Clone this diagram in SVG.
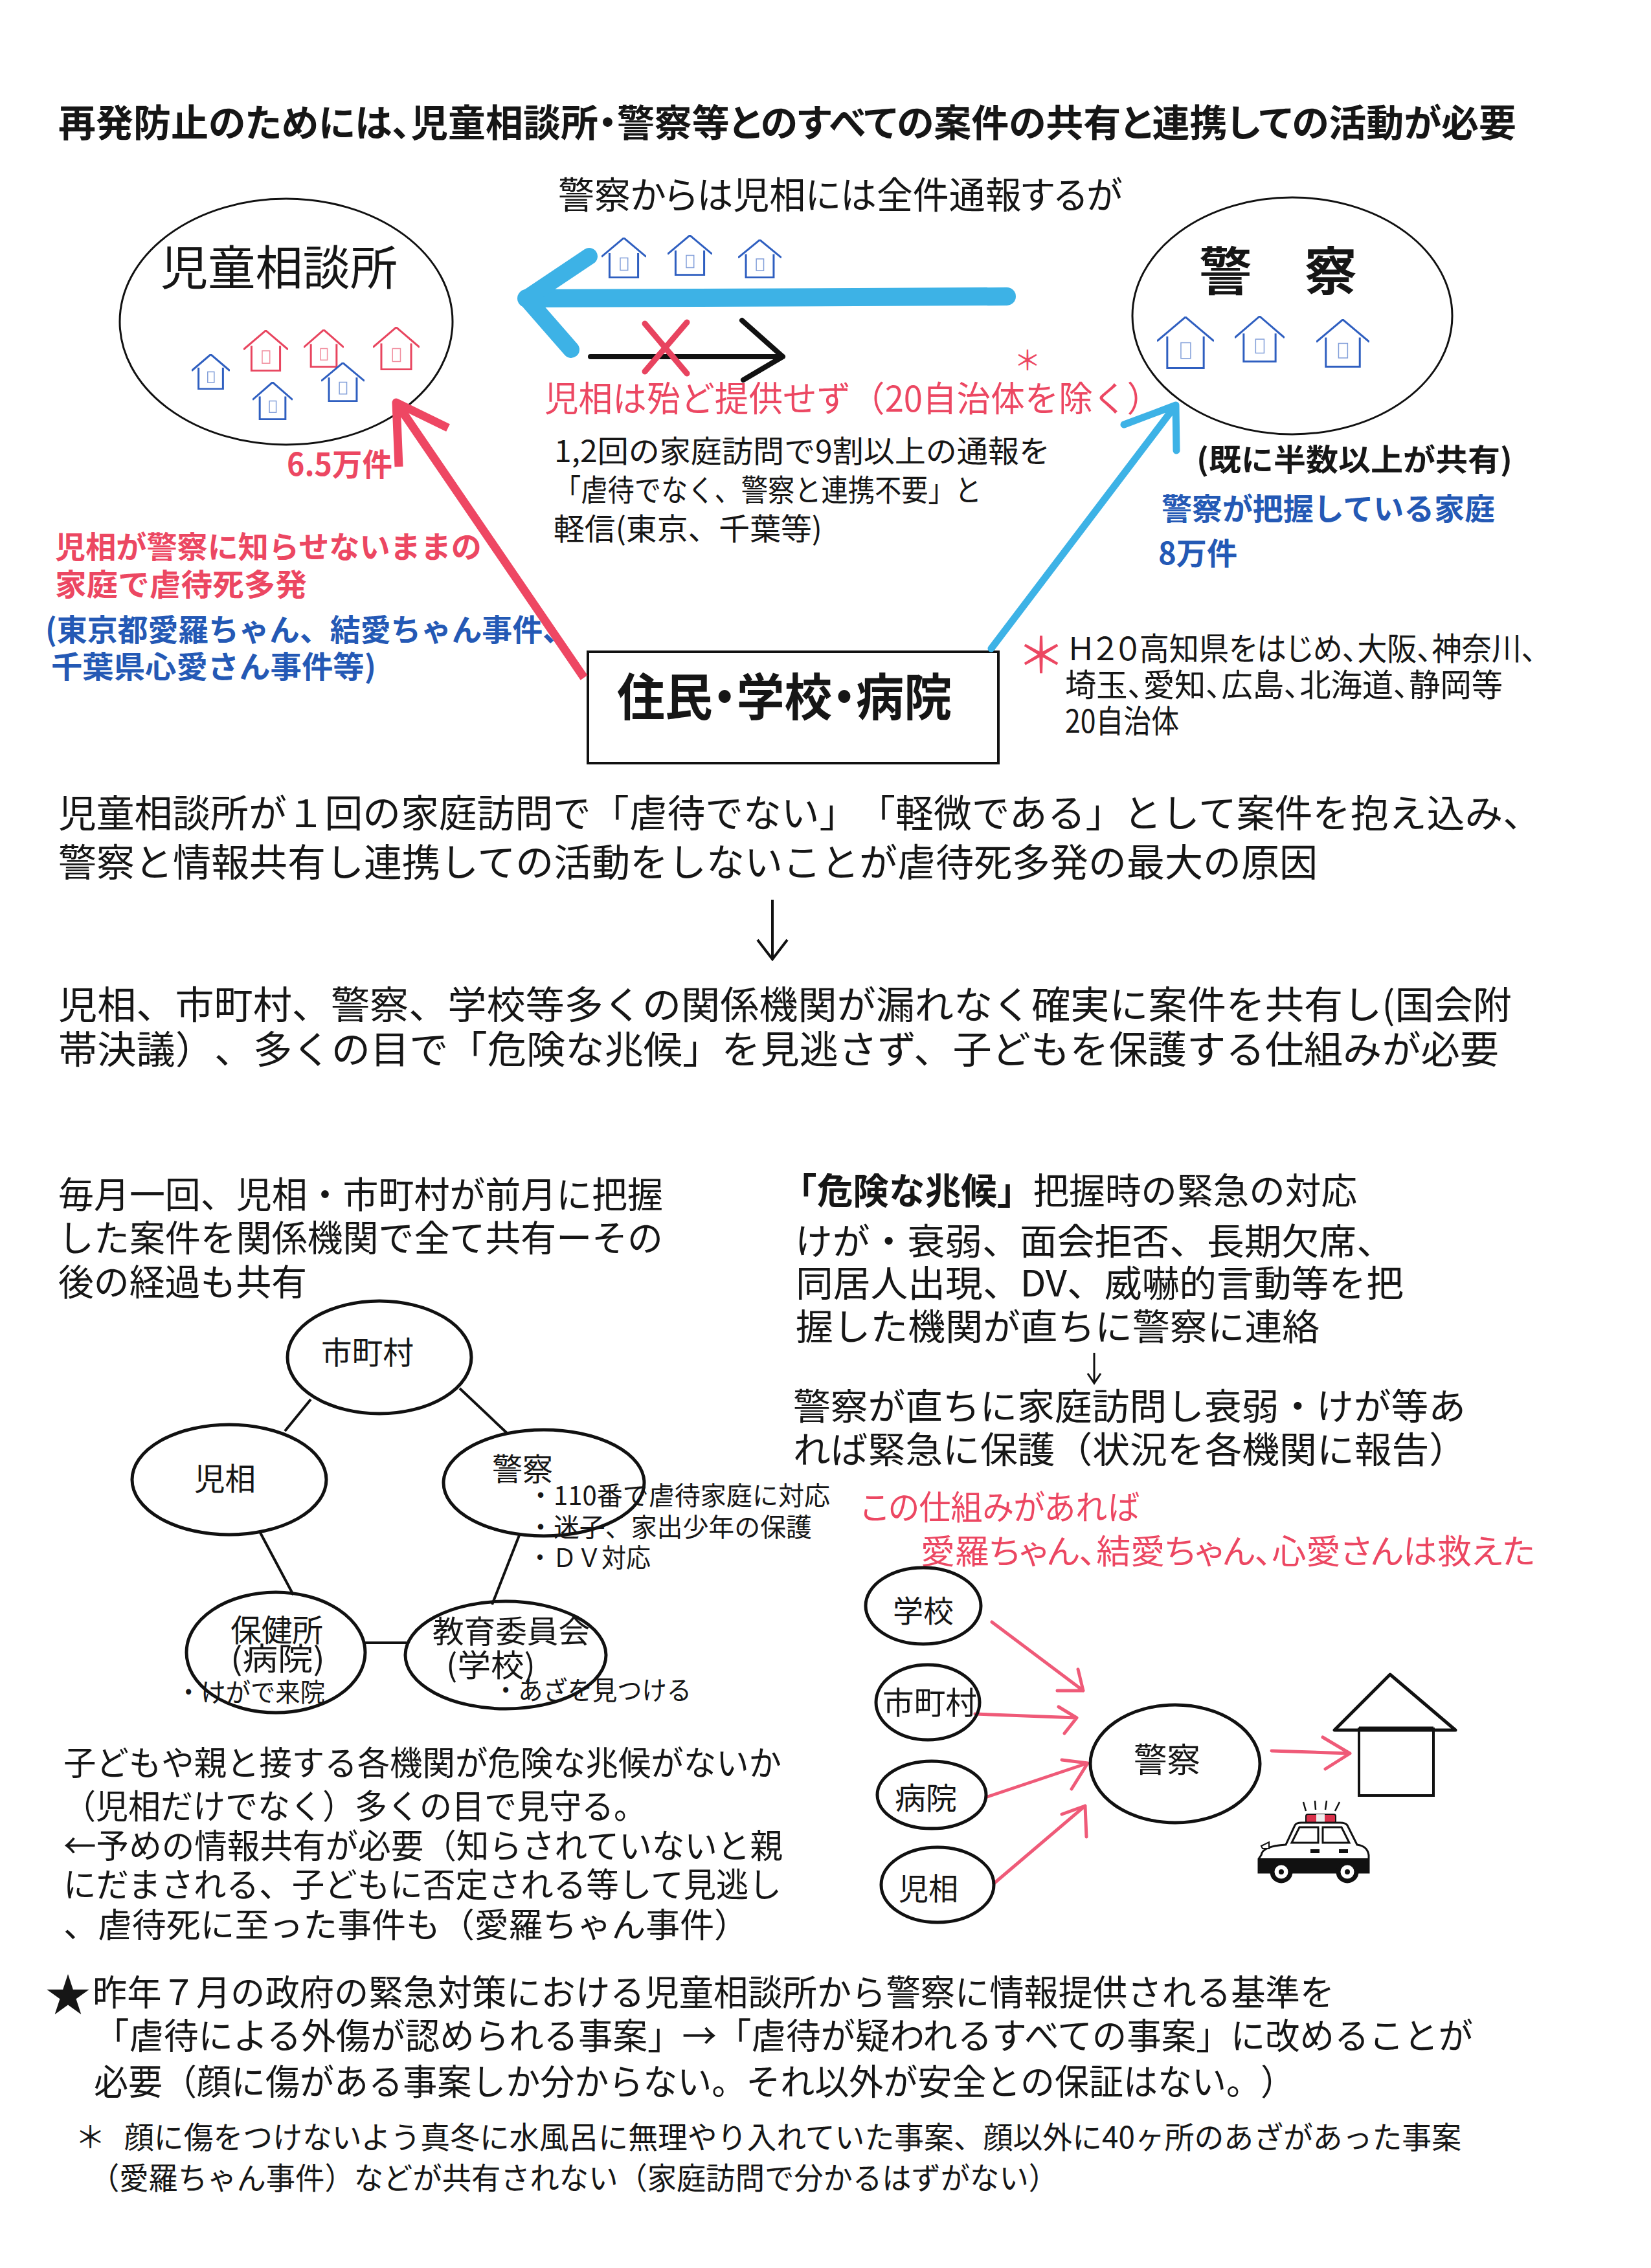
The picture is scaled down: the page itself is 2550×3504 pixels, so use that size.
<svg xmlns="http://www.w3.org/2000/svg" xmlns:xlink="http://www.w3.org/1999/xlink" width="2550" height="3504" viewBox="0 0 2550 3504">
<style>
text{font-family:"Noto Sans CJK JP","Noto Sans",sans-serif;fill:#161616;text-spacing-trim:space-all}
.b{font-weight:700}
.p{font-feature-settings:"palt"}
.r{fill:#ec4762}
.bl{fill:#2459b5}
.node{fill:none;stroke:#111;stroke-width:5}
.thin{fill:none;stroke:#111;stroke-width:3}
.link{fill:none;stroke:#111;stroke-width:4}
.pk{fill:none;stroke:#ef5a78;stroke-width:5;stroke-linecap:round;stroke-linejoin:round}
.hb{color:#2f5fc0}.hr{color:#e8455f}
</style>
<defs>
<symbol id="house" viewBox="0 0 100 100" preserveAspectRatio="none">
<polyline points="0,47 50,1 100,47" fill="none" stroke="currentColor" stroke-width="3" vector-effect="non-scaling-stroke"/>
<polyline points="18,38 18,98 82,98 82,38" fill="none" stroke="currentColor" stroke-width="3" vector-effect="non-scaling-stroke"/>
<rect x="42" y="50" width="17" height="30" fill="none" stroke="currentColor" stroke-opacity=".6" stroke-width="1.5" vector-effect="non-scaling-stroke"/>
</symbol>
</defs>
<rect width="2550" height="3504" fill="#fff"/>

<g id="title"><text class="b p" x="90" y="211" font-size="58" textLength="2252" lengthAdjust="spacingAndGlyphs">再発防止のためには、児童相談所・警察等とのすべての案件の共有と連携しての活動が必要</text></g>
<g id="top-note"><text class="p" x="862" y="322" font-size="57" textLength="871" lengthAdjust="spacingAndGlyphs">警察からは児相には全件通報するが</text></g>

<g id="node-jisou">
<ellipse class="thin" cx="442" cy="497" rx="257" ry="190"/>
<text x="248" y="440" font-size="73" textLength="366" lengthAdjust="spacingAndGlyphs">児童相談所</text>
<use href="#house" class="hr" x="376" y="510" width="69" height="64"/>
<use href="#house" class="hr" x="469" y="509" width="62" height="59"/>
<use href="#house" class="hr" x="576" y="505" width="72" height="67"/>
<use href="#house" class="hb" x="296" y="547" width="59" height="55"/>
<use href="#house" class="hb" x="390" y="590" width="62" height="59"/>
<use href="#house" class="hb" x="496" y="560" width="67" height="61"/>
</g>
<g id="node-keisatsu">
<ellipse class="thin" cx="1996" cy="488" rx="247" ry="183"/>
<text class="b" x="1852" y="448" font-size="80" textLength="244" lengthAdjust="spacingAndGlyphs">警　察</text>
<use href="#house" class="hb" x="1787" y="489" width="88" height="81"/>
<use href="#house" class="hb" x="1907" y="488" width="77" height="72"/>
<use href="#house" class="hb" x="2033" y="493" width="82" height="75"/>
</g>
<g id="top-houses">
<use href="#house" class="hb" x="929" y="367" width="69" height="63"/>
<use href="#house" class="hb" x="1031" y="363" width="69" height="63"/>
<use href="#house" class="hb" x="1140" y="370" width="67" height="60"/>
</g>
<g id="node-source">
<rect x="908" y="1007" width="634" height="172" fill="none" stroke="#111" stroke-width="4"/>
<text class="b p" x="953" y="1106" font-size="78" textLength="517" lengthAdjust="spacingAndGlyphs">住民・学校・病院</text>
</g>

<g id="connectors">
<g fill="none" stroke="#3db2e6" stroke-linecap="round" stroke-linejoin="round">
<path d="M1555 458L813 461" stroke-width="28"/>
<path d="M910 396L813 461L882 540" stroke-width="26"/>
<path d="M1531 1002L1816 626M1736 656L1816 626L1817 696" stroke-width="11"/>
</g>
<path d="M912 551H1209M1146 495L1209 551L1148 587" fill="none" stroke="#111" stroke-width="8" stroke-linecap="round" stroke-linejoin="round"/>
<path d="M1061 498L996 574M996 500L1061 577" fill="none" stroke="#e8435f" stroke-width="9" stroke-linecap="round"/>
<path d="M902 1047L612 622M692 661L612 622L616 721" fill="none" stroke="#ee4763" stroke-width="13" stroke-linejoin="round"/>
<path d="M1193 1390V1482M1170 1452L1193 1482L1216 1452" fill="none" stroke="#111" stroke-width="4"/>
<path d="M1690 2090V2137M1680 2122L1690 2137L1700 2122" fill="none" stroke="#111" stroke-width="3"/>
<path class="link" d="M480 2162L440 2211M710 2145L783 2214M402 2368L453 2464M802 2372L760 2479M564 2538H628"/>
<path class="pk" d="M1532 2506L1673 2612M1665 2579L1673 2612L1633 2612"/>
<path class="pk" d="M1506 2648L1663 2654M1635 2637L1663 2654L1644 2678"/>
<path class="pk" d="M1525 2776L1680 2724M1640 2719L1680 2724L1655 2764"/>
<path class="pk" d="M1535 2910L1676 2790M1640 2803L1676 2790L1678 2838"/>
<path class="pk" d="M1964 2705L2085 2709M2043 2684L2085 2709L2047 2733"/>
</g>

<g id="labels-top">
<text class="r" x="841" y="636" font-size="54" textLength="952" lengthAdjust="spacingAndGlyphs">児相は殆ど提供せず（20自治体を除く）</text>
<text class="r" x="1566" y="572" font-size="42">＊</text>
<text x="856" y="714" font-size="47" textLength="766" lengthAdjust="spacingAndGlyphs">1,2回の家庭訪問で9割以上の通報を</text>
<text x="856" y="774" font-size="47" textLength="660" lengthAdjust="spacingAndGlyphs">「虐待でなく、警察と連携不要」と</text>
<text x="855" y="834" font-size="47" textLength="415" lengthAdjust="spacingAndGlyphs">軽信(東京、千葉等)</text>
<text class="b r" x="443" y="735" font-size="48" textLength="163" lengthAdjust="spacingAndGlyphs">6.5万件</text>
<text class="b r" x="85" y="862" font-size="47" textLength="659" lengthAdjust="spacingAndGlyphs">児相が警察に知らせないままの</text>
<text class="b r" x="85" y="920" font-size="47" textLength="389" lengthAdjust="spacingAndGlyphs">家庭で虐待死多発</text>
<text class="b bl" x="70" y="990" font-size="47" textLength="815" lengthAdjust="spacingAndGlyphs">(東京都愛羅ちゃん、結愛ちゃん事件、</text>
<text class="b bl" x="79" y="1047" font-size="47" textLength="502" lengthAdjust="spacingAndGlyphs">千葉県心愛さん事件等)</text>
<text class="b" x="1848" y="727" font-size="47" textLength="488" lengthAdjust="spacingAndGlyphs">(既に半数以上が共有)</text>
<text class="b bl" x="1794" y="803" font-size="47" textLength="515" lengthAdjust="spacingAndGlyphs">警察が把握している家庭</text>
<text class="b bl" x="1789" y="872" font-size="47" textLength="122" lengthAdjust="spacingAndGlyphs">8万件</text>
<text class="r" x="1570" y="1040" font-size="76">＊</text>
<text class="p" x="1649" y="1020" font-size="49" textLength="724" lengthAdjust="spacingAndGlyphs">Ｈ２０高知県をはじめ、大阪、神奈川、</text>
<text class="p" x="1645" y="1076" font-size="49" textLength="676" lengthAdjust="spacingAndGlyphs">埼玉、愛知、広島、北海道、静岡等</text>
<text class="p" x="1645" y="1132" font-size="49" textLength="176" lengthAdjust="spacingAndGlyphs">20自治体</text>
</g>

<g id="paragraphs">
<text x="90" y="1278" font-size="59" textLength="2290" lengthAdjust="spacingAndGlyphs">児童相談所が１回の家庭訪問で「虐待でない」「軽微である」として案件を抱え込み、</text>
<text x="90" y="1354" font-size="59" textLength="1945" lengthAdjust="spacingAndGlyphs">警察と情報共有し連携しての活動をしないことが虐待死多発の最大の原因</text>
<text x="90" y="1574" font-size="59" textLength="2245" lengthAdjust="spacingAndGlyphs">児相、市町村、警察、学校等多くの関係機関が漏れなく確実に案件を共有し(国会附</text>
<text x="90" y="1643" font-size="59" textLength="2225" lengthAdjust="spacingAndGlyphs">帯決議）、多くの目で「危険な兆候」を見逃さず、子どもを保護する仕組みが必要</text>
<text x="90" y="1866" font-size="56" textLength="934" lengthAdjust="spacingAndGlyphs">毎月一回、児相・市町村が前月に把握</text>
<text x="90" y="1933" font-size="56" textLength="934" lengthAdjust="spacingAndGlyphs">した案件を関係機関で全て共有ーその</text>
<text x="90" y="2001" font-size="56" textLength="384" lengthAdjust="spacingAndGlyphs">後の経過も共有</text>
<text x="1206" y="1860" font-size="56" textLength="890" lengthAdjust="spacingAndGlyphs"><tspan class="b">「危険な兆候」</tspan>把握時の緊急の対応</text>
<text x="1228" y="1938" font-size="56" textLength="925" lengthAdjust="spacingAndGlyphs">けが・衰弱、面会拒否、長期欠席、</text>
<text x="1229" y="2003" font-size="56" textLength="939" lengthAdjust="spacingAndGlyphs">同居人出現、DV、威嚇的言動等を把</text>
<text x="1229" y="2070" font-size="56" textLength="809" lengthAdjust="spacingAndGlyphs">握した機関が直ちに警察に連絡</text>
<text x="1225" y="2193" font-size="56" textLength="1039" lengthAdjust="spacingAndGlyphs">警察が直ちに家庭訪問し衰弱・けが等あ</text>
<text x="1225" y="2260" font-size="56" textLength="1040" lengthAdjust="spacingAndGlyphs">れば緊急に保護（状況を各機関に報告）</text>
</g>

<g id="node-shichoson"><ellipse class="node" cx="586" cy="2097" rx="142" ry="87"/><text x="496" y="2107" font-size="48" textLength="143" lengthAdjust="spacingAndGlyphs">市町村</text></g>
<g id="node-jiso2"><ellipse class="node" cx="354" cy="2286" rx="150" ry="85"/><text x="300" y="2302" font-size="48" textLength="95" lengthAdjust="spacingAndGlyphs">児相</text></g>
<g id="node-police2">
<ellipse class="node" cx="840" cy="2291" rx="155" ry="82"/><text x="760" y="2287" font-size="48" textLength="94" lengthAdjust="spacingAndGlyphs">警察</text>
<text x="815" y="2325" font-size="40" textLength="467" lengthAdjust="spacingAndGlyphs">・110番で虐待家庭に対応</text>
<text x="815" y="2374" font-size="40" textLength="439" lengthAdjust="spacingAndGlyphs">・迷子、家出少年の保護</text>
<text x="815" y="2421" font-size="40" textLength="190" lengthAdjust="spacingAndGlyphs">・ＤＶ対応</text>
</g>
<g id="node-hokenjo">
<ellipse class="node" cx="426" cy="2553" rx="138" ry="93"/>
<text x="356" y="2536" font-size="48" textLength="143" lengthAdjust="spacingAndGlyphs">保健所</text>
<text x="356" y="2580" font-size="48" textLength="146" lengthAdjust="spacingAndGlyphs">(病院)</text>
<text x="272" y="2629" font-size="40" textLength="230" lengthAdjust="spacingAndGlyphs">・けがで来院</text>
</g>
<g id="node-kyoiku">
<ellipse class="node" cx="781" cy="2557" rx="155" ry="83"/>
<text x="668" y="2538" font-size="48" textLength="243" lengthAdjust="spacingAndGlyphs">教育委員会</text>
<text x="689" y="2590" font-size="48" textLength="138" lengthAdjust="spacingAndGlyphs">(学校)</text>
<text x="762" y="2626" font-size="40" textLength="306" lengthAdjust="spacingAndGlyphs">・あざを見つける</text>
</g>

<g id="notes-left">
<text x="98" y="2743" font-size="52" textLength="1109" lengthAdjust="spacingAndGlyphs">子どもや親と接する各機関が危険な兆候がないか</text>
<text x="98" y="2810" font-size="52" textLength="900" lengthAdjust="spacingAndGlyphs">（児相だけでなく）多くの目で見守る。</text>
<text x="98" y="2871" font-size="52" textLength="1111" lengthAdjust="spacingAndGlyphs">←予めの情報共有が必要（知らされていないと親</text>
<text x="98" y="2931" font-size="52" textLength="1109" lengthAdjust="spacingAndGlyphs">にだまされる、子どもに否定される等して見逃し</text>
<text x="98" y="2993" font-size="52" textLength="1058" lengthAdjust="spacingAndGlyphs">、虐待死に至った事件も（愛羅ちゃん事件）</text>
</g>

<g id="notes-red">
<text class="r p" x="1330" y="2348" font-size="52" textLength="429" lengthAdjust="spacingAndGlyphs">この仕組みがあれば</text>
<text class="r p" x="1422" y="2416" font-size="52" textLength="949" lengthAdjust="spacingAndGlyphs">愛羅ちゃん、結愛ちゃん、心愛さんは救えた</text>
</g>

<g id="node-school"><ellipse class="node" cx="1426" cy="2481" rx="89" ry="59"/><text x="1379" y="2506" font-size="47" textLength="94" lengthAdjust="spacingAndGlyphs">学校</text></g>
<g id="node-city"><ellipse class="node" cx="1433" cy="2630" rx="80" ry="58"/><text x="1363" y="2648" font-size="48" textLength="146" lengthAdjust="spacingAndGlyphs">市町村</text></g>
<g id="node-hospital"><ellipse class="node" cx="1439" cy="2773" rx="84" ry="52"/><text x="1382" y="2795" font-size="47" textLength="96" lengthAdjust="spacingAndGlyphs">病院</text></g>
<g id="node-jiso3"><ellipse class="node" cx="1448" cy="2912" rx="87" ry="58"/><text x="1388" y="2935" font-size="47" textLength="92" lengthAdjust="spacingAndGlyphs">児相</text></g>
<g id="node-police3"><ellipse class="node" cx="1815" cy="2725" rx="131" ry="91"/><text x="1751" y="2738" font-size="52" textLength="103" lengthAdjust="spacingAndGlyphs">警察</text></g>

<g id="node-home">
<path d="M2147 2587L2061 2673H2248Z" fill="none" stroke="#111" stroke-width="5" stroke-linejoin="round"/>
<rect x="2099" y="2671" width="115" height="103" fill="none" stroke="#111" stroke-width="4"/>
<path d="M2099 2671H2214" stroke="#111" stroke-width="7"/>
</g>

<g id="node-car">
<path d="M2017 2798L2013 2784M2032 2796L2031 2782M2047 2796L2049 2782M2062 2798L2069 2784" stroke="#111" stroke-width="2.5" fill="none"/>
<rect x="2017" y="2803" width="46" height="14" rx="3" fill="#d8304a" stroke="#111" stroke-width="2"/>
<rect x="2033" y="2803" width="13" height="14" fill="#eee"/>
<path d="M1948 2866Q1950 2852 1986 2850L2000 2820Q2002 2816 2010 2816H2070Q2078 2816 2081 2820L2096 2850Q2112 2852 2114 2866V2893H1944V2872Z" fill="#fff" stroke="#111" stroke-width="3"/>
<path d="M1945 2871H2114V2890Q2114 2893 2108 2893H1950Q1944 2893 1944 2888Z" fill="#111"/>
<path d="M1995 2847L2007 2823H2036V2847ZM2043 2823H2072L2084 2847H2043Z" fill="#fff" stroke="#111" stroke-width="3"/>
<path d="M1948 2852L1960 2846V2856L1950 2856Z" fill="#fff" stroke="#111" stroke-width="2"/>
<rect x="2024" y="2857" width="14" height="6" fill="#111"/><rect x="2068" y="2857" width="14" height="6" fill="#111"/>
<g fill="#fff" stroke="#111" stroke-width="7"><ellipse cx="1979" cy="2892" rx="14" ry="14"/><ellipse cx="2081" cy="2892" rx="14" ry="14"/></g>
<circle cx="1979" cy="2892" r="4" fill="#111"/><circle cx="2081" cy="2892" r="4" fill="#111"/>
</g>

<g id="footer">
<text x="70" y="3108" font-size="70" textLength="70" lengthAdjust="spacingAndGlyphs">★</text>
<text x="143" y="3098" font-size="55" textLength="1918" lengthAdjust="spacingAndGlyphs">昨年７月の政府の緊急対策における児童相談所から警察に情報提供される基準を</text>
<text x="146" y="3165" font-size="55" textLength="2129" lengthAdjust="spacingAndGlyphs">「虐待による外傷が認められる事案」→「虐待が疑われるすべての事案」に改めることが</text>
<text x="145" y="3236" font-size="55" textLength="1855" lengthAdjust="spacingAndGlyphs">必要（顔に傷がある事案しか分からない。それ以外が安全との保証はない。）</text>
<text x="116" y="3319" font-size="47">＊</text>
<text x="192" y="3319" font-size="47" textLength="2065" lengthAdjust="spacingAndGlyphs">顔に傷をつけないよう真冬に水風呂に無理やり入れていた事案、顔以外に40ヶ所のあざがあった事案</text>
<text x="139" y="3382" font-size="47" textLength="1495" lengthAdjust="spacingAndGlyphs">（愛羅ちゃん事件）などが共有されない（家庭訪問で分かるはずがない）</text>
</g>
</svg>
